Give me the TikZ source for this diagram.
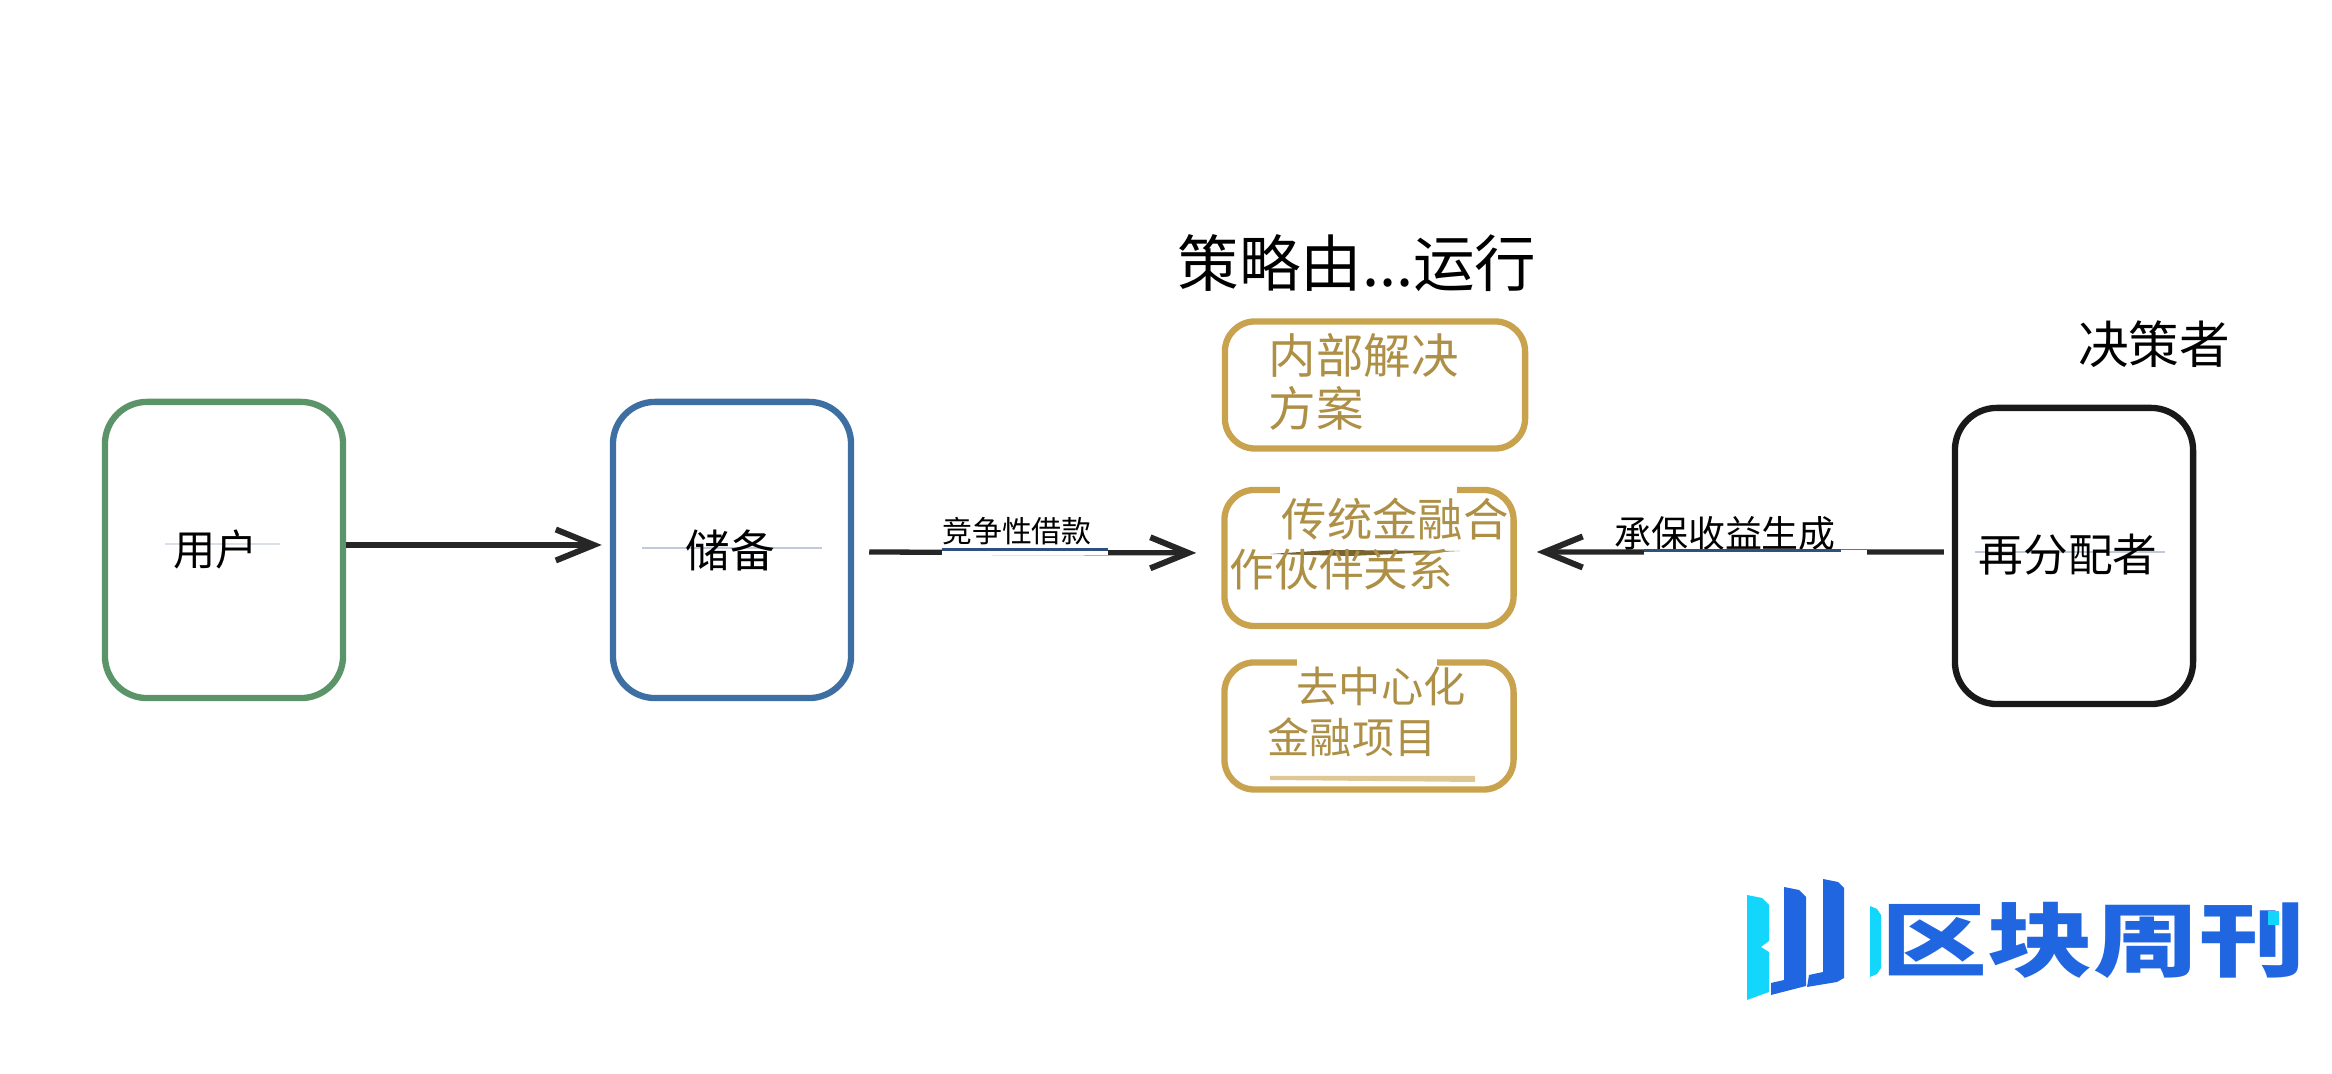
\documentclass[tikz,border=0pt]{standalone}
\usepackage{fontspec}
\setmainfont{Noto Sans CJK SC}
\usetikzlibrary{arrows.meta}
\definecolor{usergreen}{HTML}{5A9468}
\definecolor{reserveblue}{HTML}{3D6FA3}
\definecolor{boxgold}{HTML}{C9A24E}
\definecolor{textgold}{HTML}{AD8F45}
\definecolor{logoblue}{HTML}{1F66E0}
\definecolor{logocyan}{HTML}{12D6FC}
\definecolor{smudgeblue}{HTML}{2F4F80}
\tikzset{
	actor/.style={draw, line width=1.8pt, rounded corners=0.42cm, minimum width=2.38cm, minimum height=2.96cm},
	strategy/.style={draw=boxgold, line width=1.8pt, rounded corners=0.3cm},
	flow/.style={line width=1.5pt, color=black!85, -{Straight Barb[length=3.8mm, width=3.1mm, line width=1.7pt]}},
	goldtext/.style={color=textgold, font=\fontsize{13.5pt}{13.5pt}\selectfont, inner sep=0pt},
	blacktext/.style={font=\fontsize{12.7pt}{12.7pt}\selectfont, inner sep=0pt},
	smudge/.style={line width=0.9pt, color=smudgeblue},
	streak/.style={line width=0.5pt, color=smudgeblue!30}
}

\begin{document}
\begin{tikzpicture}[x=0.01cm, y=-0.01cm]
		\useasboundingbox (0, 0) rectangle (2332, 1074);
		
		%%%%% ACTORS %%%%%
		\node[actor, draw=usergreen] (user) at (224, 550) {};
		\node[actor, draw=reserveblue] (reserve) at (732, 550) {};
		\node[actor, draw=black!90] (redist) at (2074, 556) {};
		
		\draw[streak, line width=0.8pt] (642, 548) -- (822, 548);
		\draw[streak] (1975, 552) -- (2165, 552);
		\draw[streak, color=smudgeblue!18] (165, 544) -- (280, 544);
		\node[blacktext, font=\fontsize{12pt}{12pt}\selectfont] (userlabel) at (216, 549) {用户};
		\node[blacktext] (reservelabel) at (730, 550) {储备};
		\node[blacktext] (redistlabel) at (2068, 555) {再分配者};
		
		%%%%% STRATEGY BOXES %%%%%
		\node[strategy, minimum width=3.0cm, minimum height=1.27cm] (inhouse) at (1375, 385) {};
		\node[strategy, minimum width=2.89cm, minimum height=1.36cm] (tradfi) at (1369, 558) {};
		\node[strategy, minimum width=2.89cm, minimum height=1.27cm] (defi) at (1369, 726) {};
		
		% patches in the borders
		\fill[white] (1280, 484) rectangle (1457, 496);
		\fill[white] (1297, 657) rectangle (1437, 669);
		\fill[boxgold!60] (1270, 776) -- (1475, 776) -- (1475, 782) -- (1270, 780) -- cycle;
		\fill[textgold!70!black] (1270, 554) -- (1330, 550) -- (1460, 551) -- (1350, 556) -- cycle;
		
		\node[goldtext, anchor=west] (inhousea) at (1268, 355) {内部解决};
		\node[goldtext, anchor=west] (inhouseb) at (1268, 408) {方案};
		\node[goldtext, anchor=west, font=\fontsize{12.9pt}{12.9pt}\selectfont] (tradfia) at (1281, 519) {传统金融合};
		\node[goldtext, anchor=west, font=\fontsize{12.7pt}{12.7pt}\selectfont] (tradfib) at (1229, 570) {作伙伴关系};
		\node[goldtext, anchor=west, font=\fontsize{12pt}{12pt}\selectfont] (defia) at (1296, 686) {去中心化};
		\node[goldtext, anchor=west, font=\fontsize{12pt}{12pt}\selectfont] (defib) at (1267, 737) {金融项目};
		
		\node[inner sep=0pt, font=\fontsize{17.5pt}{17.5pt}\selectfont] (title) at (1357, 263) {策略由...运行};
		\node[inner sep=0pt, font=\fontsize{14.4pt}{14.4pt}\selectfont] (decider) at (2154, 344) {决策者};
		
		%%%%% ARROWS %%%%%
		\draw[flow, shorten >=0.08cm] ([yshift=0.05cm]user.east) -- ([yshift=0.05cm]reserve.west);
		\draw[flow, shorten <=0.15cm, shorten >=0.25cm] ([yshift=-0.02cm]reserve.east) -- ([yshift=0.05cm]tradfi.west);
		\draw[flow, shorten <=0.08cm, shorten >=0.2cm] ([yshift=0.04cm]redist.west) -- ([yshift=0.06cm]tradfi.east);
		
		\node[inner sep=0pt, font=\fontsize{8.5pt}{8.5pt}\selectfont] (lending) at (1017, 531) {竞争性借款};
		\node[inner sep=0pt, font=\fontsize{10.5pt}{10.5pt}\selectfont] (underwrite) at (1725, 534) {承保收益生成};
		\draw[white, line width=2pt] ([yshift=-0.06cm]lending.south west) -- ([xshift=0.16cm, yshift=-0.06cm]lending.south east);
		\draw[smudge] ([yshift=-0.04cm]lending.south west) -- ([xshift=0.16cm, yshift=-0.04cm]lending.south east);
		\draw[white, line width=2pt] ([xshift=0.3cm, yshift=-0.02cm]underwrite.south west) -- ([xshift=0.3cm, yshift=-0.02cm]underwrite.south east);
		\draw[smudge] ([xshift=0.3cm, yshift=0.01cm]underwrite.south west) -- ([xshift=0.05cm, yshift=0.01cm]underwrite.south east);
		
		%%%%% LOGO %%%%%
		\fill[logocyan] (1747, 895) -- (1762, 898) -- (1769, 905) -- (1769, 941) -- (1761, 947) -- (1769, 952) -- (1769, 992) -- (1747, 1000) -- cycle;
		\fill[logoblue] (1784, 887) -- (1799, 890) -- (1806, 897) -- (1806, 986) -- (1771, 995) -- (1771, 983) -- (1784, 980) -- cycle;
		\fill[logoblue] (1823, 879) -- (1838, 882) -- (1844, 888) -- (1844, 978) -- (1837, 982) -- (1807, 987) -- (1809, 975) -- (1823, 972) -- cycle;
		\fill[logocyan] (1870, 906) -- (1877, 909) -- (1881, 915) -- (1881, 968) -- (1877, 974) -- (1870, 977) -- cycle;
		\node[inner sep=0pt, anchor=west, color=logoblue, font=\bfseries\fontsize{23pt}{23pt}\selectfont, xscale=1.31, transform shape] (logotext) at (1881, 940) {区块周刊};
		\fill[logocyan] (2268, 911) rectangle (2279, 925);
		
		%%%%% END %%%%%
	\end{tikzpicture}
\end{document}
